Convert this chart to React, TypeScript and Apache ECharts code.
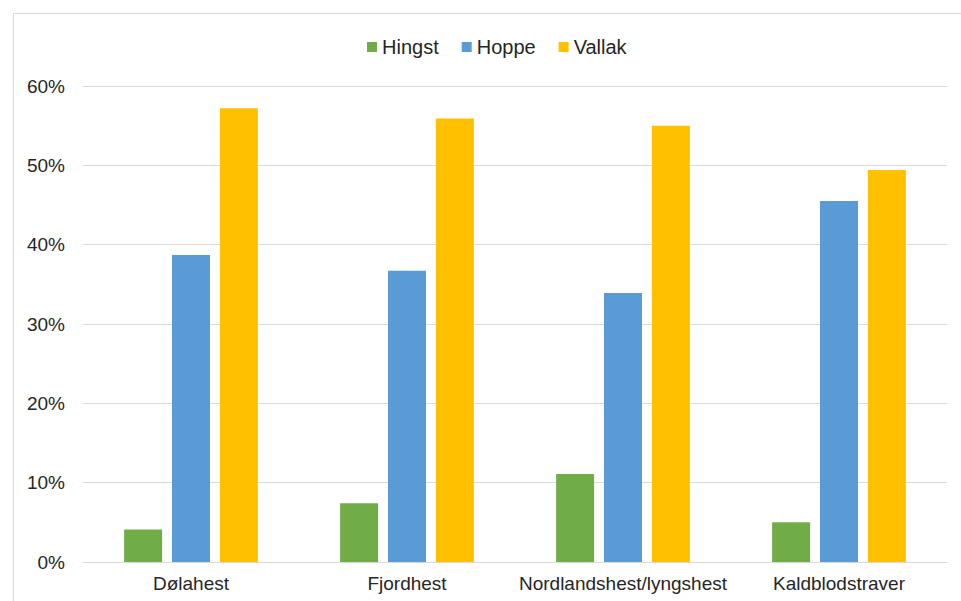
import React, { useEffect, useRef } from "react";
import * as echarts from "echarts";

const categories = ["Dølahest", "Fjordhest", "Nordlandshest/lyngshest", "Kaldblodstraver"];
const hingst = [4.1, 7.4, 11.1, 5.0];
const hoppe = [38.7, 36.7, 33.9, 45.5];
const vallak = [57.2, 55.9, 55.0, 49.4];
const seriesNames = ["Hingst", "Hoppe", "Vallak"];
const colors = ["#70AD47", "#5B9BD5", "#FFC000"];

export default function App() {
  const ref = useRef<HTMLDivElement>(null);
  useEffect(() => {
    if (!ref.current) return;
    const chart = echarts.init(ref.current, undefined, { renderer: "svg" });
    const font = "'Liberation Sans', Arial, sans-serif";
    const data = [hingst, hoppe, vallak];
    chart.setOption({
      animation: false,
      backgroundColor: "#ffffff",
      textStyle: { fontFamily: font },
      color: colors,
      graphic: [
        {
          type: "rect",
          shape: { x: 13.5, y: 13.5, width: 1000, height: 1000 },
          style: { fill: "none", stroke: "#d9d9d9", lineWidth: 1 },
          silent: true,
        },
      ],
      legend: {
        top: 32,
        left: 362,
        icon: "rect",
        itemWidth: 10,
        itemHeight: 10,
        itemGap: 23,
        textStyle: { fontSize: 20, color: "#262626", fontFamily: font },
        data: seriesNames,
      },
      grid: { left: 83, right: 14, top: 86, bottom: 39, containLabel: false },
      xAxis: {
        type: "category",
        data: categories,
        axisLine: { lineStyle: { color: "#d9d9d9", width: 1 } },
        axisTick: { show: false },
        axisLabel: { fontSize: 19, color: "#262626", margin: 12, interval: 0, fontFamily: font },
      },
      yAxis: {
        type: "value",
        min: 0,
        max: 60,
        interval: 10,
        axisLine: { show: false },
        axisTick: { show: false },
        splitLine: { lineStyle: { color: "#d9d9d9", width: 1 } },
        axisLabel: { fontSize: 19, color: "#262626", margin: 18, formatter: "{value}%", fontFamily: font },
      },
      series: seriesNames.map((name, i) => ({
        name,
        type: "bar",
        data: data[i],
        barWidth: 38,
        barGap: "26%",
        itemStyle: { color: colors[i] },
      })),
    });
    return () => chart.dispose();
  }, []);
  return (
    <div
      ref={ref}
      style={{ position: "absolute", left: 0, top: 0, width: 961, height: 601 }}
    />
  );
}
